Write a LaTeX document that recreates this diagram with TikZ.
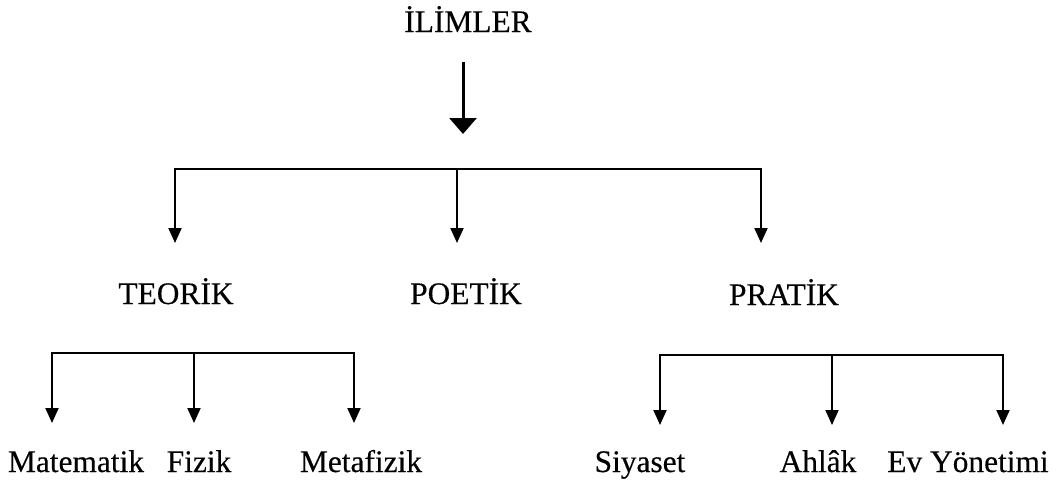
\documentclass[tikz,border=0pt]{standalone}
\usepackage{fontspec}
\setmainfont[FakeBold=0.3]{Liberation Serif}
\usetikzlibrary{arrows.meta}

\begin{document}
\begin{tikzpicture}[x=1pt,y=-1pt,
  lbl/.style={font=\fontsize{31.4}{36}\selectfont, inner sep=0pt, anchor=base},
  twoway/.style={line width=2pt, line join=miter, {Triangle[width=13pt,length=15pt]}-{Triangle[width=13pt,length=15pt]}},
  oneway/.style={line width=2pt, -{Triangle[width=13pt,length=15pt]}},
  bigarrow/.style={line width=3pt, -{Triangle[width=27pt,length=16pt]}}]
\useasboundingbox (0,0) rectangle (1058,485);

% headings
\node[lbl] (ilimler) at (468,32) {İLİMLER};
\node[lbl] (teorik)  at (176,304) {TEORİK};
\node[lbl] (poetik)  at (466,304) {POETİK};
\node[lbl] (pratik)  at (784,305) {PRATİK};

% leaves
\node[lbl] (matematik) at (76,472)  {Matematik};
\node[lbl] (fizik)     at (199,472) {Fizik};
\node[lbl] (metafizik) at (361,472) {Metafizik};
\node[lbl] (siyaset)   at (640,472) {Siyaset};
\node[lbl] (ahlak)     at (818,472) {Ahlâk};
\node[lbl] (evyonetim) at (968,472) {Ev Yönetimi};

% main arrow
\coordinate (big0) at (463,62);
\coordinate (big1) at (463,134);
\draw[bigarrow] (big0) -- (big1);

% first level bar
\coordinate (a1) at (175,169);
\coordinate (a2) at (457,169);
\coordinate (a3) at (761,169);
\coordinate (ta1) at (175,243);
\coordinate (ta2) at (457,243);
\coordinate (ta3) at (761,243);
\draw[twoway] (ta1) -- (a1) -- (a3) -- (ta3);
\draw[oneway] (a2) -- (ta2);

% second level bar, left
\coordinate (b1) at (52,353);
\coordinate (b2) at (194,353);
\coordinate (b3) at (354,353);
\coordinate (tb1) at (52,423);
\coordinate (tb2) at (194,423);
\coordinate (tb3) at (354,423);
\draw[twoway] (tb1) -- (b1) -- (b3) -- (tb3);
\draw[oneway] (b2) -- (tb2);

% second level bar, right
\coordinate (c1) at (660,355);
\coordinate (c2) at (832,355);
\coordinate (c3) at (1003,355);
\coordinate (tc1) at (660,425);
\coordinate (tc2) at (832,425);
\coordinate (tc3) at (1003,425);
\draw[twoway] (tc1) -- (c1) -- (c3) -- (tc3);
\draw[oneway] (c2) -- (tc2);
\end{tikzpicture}
\end{document}
